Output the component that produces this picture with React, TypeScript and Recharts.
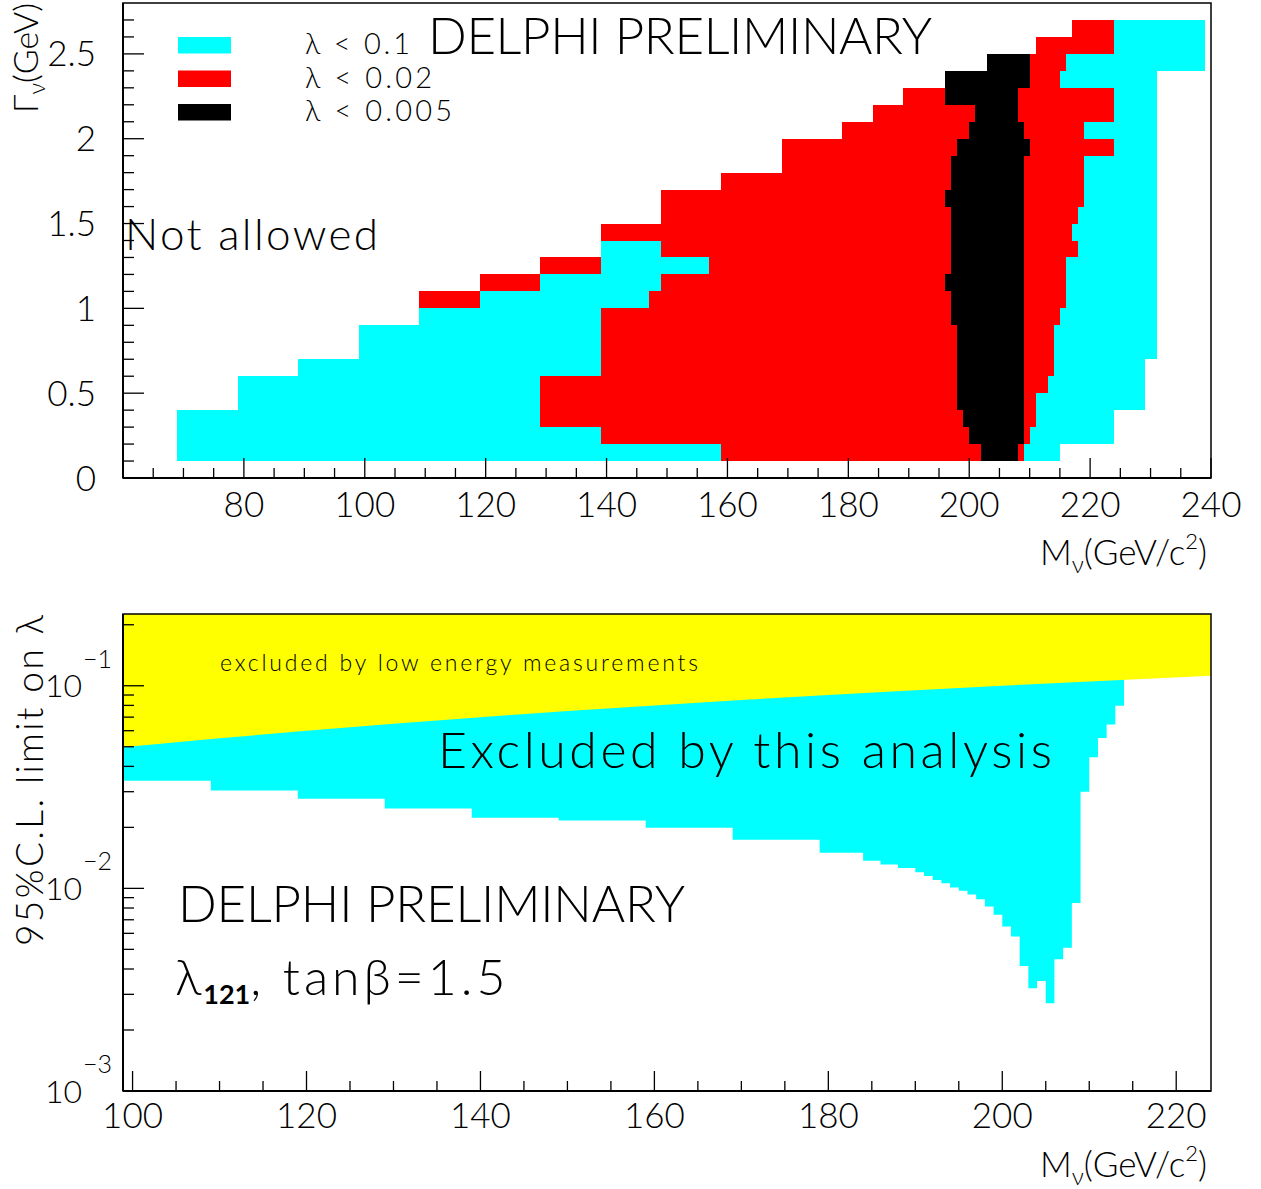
import React from "react";
import { ComposedChart, XAxis, YAxis, Area, Scatter, ReferenceArea } from "recharts";

const FONT = "Lato, 'Open Sans', sans-serif";
const CYAN = "#00ffff";
const RED = "#ff0000";
const YELLOW = "#ffff00";
const LEVEL_COLORS = [CYAN, RED, "#000000"];

// ---------- upper plot: scan in (M_nu, Gamma_nu) ----------
// lower edge of every 0.1 GeV row in Gamma_nu
const gammaRows = [
  0.1, 0.2, 0.3, 0.4, 0.5, 0.6, 0.7, 0.8, 0.9, 1.0, 1.1, 1.2, 1.3, 1.4,
  1.5, 1.6, 1.7, 1.8, 1.9, 2.0, 2.1, 2.2, 2.3, 2.4, 2.5, 2.6, 2.7,
];
// for each row: [M from, M to, level]  level 0: λ<0.1, 1: λ<0.02, 2: λ<0.005
const rowCells: [number, number, number][][] = [
  [[69, 159, 0], [159, 202, 1], [202, 208, 2], [208, 209, 1], [209, 215, 0]],
  [[69, 139, 0], [139, 200, 1], [200, 209, 2], [209, 210, 1], [210, 224, 0]],
  [[69, 129, 0], [129, 199, 1], [199, 209, 2], [209, 211, 1], [211, 224, 0]],
  [[79, 129, 0], [129, 198, 1], [198, 209, 2], [209, 211, 1], [211, 229, 0]],
  [[79, 129, 0], [129, 198, 1], [198, 209, 2], [209, 213, 1], [213, 229, 0]],
  [[89, 139, 0], [139, 198, 1], [198, 209, 2], [209, 214, 1], [214, 229, 0]],
  [[99, 139, 0], [139, 198, 1], [198, 209, 2], [209, 214, 1], [214, 231, 0]],
  [[99, 139, 0], [139, 198, 1], [198, 209, 2], [209, 214, 1], [214, 231, 0]],
  [[109, 139, 0], [139, 197, 1], [197, 209, 2], [209, 215, 1], [215, 231, 0]],
  [[109, 119, 1], [119, 147, 0], [147, 197, 1], [197, 209, 2], [209, 216, 1], [216, 231, 0]],
  [[119, 129, 1], [129, 149, 0], [149, 196, 1], [196, 209, 2], [209, 216, 1], [216, 231, 0]],
  [[129, 139, 1], [139, 157, 0], [157, 197, 1], [197, 209, 2], [209, 216, 1], [216, 231, 0]],
  [[139, 149, 0], [149, 197, 1], [197, 209, 2], [209, 218, 1], [218, 231, 0]],
  [[139, 197, 1], [197, 209, 2], [209, 217, 1], [217, 231, 0]],
  [[149, 197, 1], [197, 209, 2], [209, 218, 1], [218, 231, 0]],
  [[149, 196, 1], [196, 209, 2], [209, 219, 1], [219, 231, 0]],
  [[159, 197, 1], [197, 209, 2], [209, 219, 1], [219, 231, 0]],
  [[169, 197, 1], [197, 209, 2], [209, 219, 1], [219, 231, 0]],
  [[169, 198, 1], [198, 210, 2], [210, 224, 1], [224, 231, 0]],
  [[179, 200, 1], [200, 209, 2], [209, 219, 1], [219, 231, 0]],
  [[184, 201, 1], [201, 208, 2], [208, 224, 1], [224, 231, 0]],
  [[189, 196, 1], [196, 208, 2], [208, 224, 1], [224, 231, 0]],
  [[196, 210, 2], [210, 215, 1], [215, 231, 0]],
  [[203, 210, 2], [210, 216, 1], [216, 239, 0]],
  [[211, 224, 1], [224, 239, 0]],
  [[217, 224, 1], [224, 239, 0]],
  [[224, 239, 0]],
];
const legendLabels = ["λ < 0.1", "λ < 0.02", "λ < 0.005"];
const legendWidths = [105, 127, 147];
const topMassTicks = [
  65, 70, 75, 80, 85, 90, 95, 100, 105, 110, 115, 120, 125, 130, 135, 140,
  145, 150, 155, 160, 165, 170, 175, 180, 185, 190, 195, 200, 205, 210, 215,
  220, 225, 230, 235, 240,
];
const widthTicks = [
  0, 0.1, 0.2, 0.3, 0.4, 0.5, 0.6, 0.7, 0.8, 0.9, 1, 1.1, 1.2, 1.3, 1.4, 1.5,
  1.6, 1.7, 1.8, 1.9, 2, 2.1, 2.2, 2.3, 2.4, 2.5, 2.6, 2.7,
];

// ---------- lower plot: limit on lambda_121 ----------
// left edge of each mass bin and the 95% C.L. limit there
const limitMass = [
  98.9, 109, 119, 129, 139, 149, 159, 169, 179, 184, 186, 188, 190, 191, 192,
  193, 194, 195, 196, 197, 198, 199, 200, 201, 202, 203, 204, 205, 206, 207,
  208, 209, 210, 211, 212, 213, 214,
];
const limitLambda = [
  0.034, 0.0304, 0.0277, 0.0248, 0.0223, 0.0216, 0.0199, 0.0174, 0.015,
  0.0137, 0.0131, 0.0126, 0.012, 0.0115, 0.011, 0.0106, 0.0101, 0.00973,
  0.00932, 0.00885, 0.00813, 0.0074, 0.00648, 0.00578, 0.00414, 0.00321,
  0.00349, 0.00271, 0.00447, 0.0051, 0.00846, 0.03, 0.0444, 0.0552, 0.0644,
  0.0796, 0.0796,
];
// low energy bound
const boundMass = [98.9, 110, 120, 130, 140, 150, 160, 170, 180, 190, 200, 210, 224];
const boundLambda = [0.0497, 0.055, 0.06, 0.065, 0.07, 0.075, 0.08, 0.085, 0.09, 0.095, 0.1, 0.105, 0.112];
const lowMassTicks = [
  100, 105, 110, 115, 120, 125, 130, 135, 140, 145, 150, 155, 160, 165, 170,
  175, 180, 185, 190, 195, 200, 205, 210, 215, 220,
];
const lambdaTicks = [
  0.001, 0.002, 0.003, 0.004, 0.005, 0.006, 0.007, 0.008, 0.009,
  0.01, 0.02, 0.03, 0.04, 0.05, 0.06, 0.07, 0.08, 0.09, 0.1, 0.2,
];
const decadeExp: Record<string, string> = { "0.001": "−3", "0.01": "−2", "0.1": "−1" };

// cell centres, only used so the scan has data behind its axes
const cellPoints = rowCells.flatMap((cells, r) =>
  cells.map(([a, b]) => ({ m: (a + b) / 2, g: gammaRows[r] + 0.05 }))
);
const limitData = limitMass.map((m, i) => ({ m, limit: limitLambda[i] }));
const boundData = boundMass.map((m, i) => ({ m, bound: boundLambda[i] }));

const txt = { fontFamily: FONT, fontWeight: 300, fill: "#000" } as const;

function massTick(labelDy: number) {
  return (props: any) => {
    const { x, y, payload } = props;
    const major = payload.value % 20 === 0;
    return (
      <g>
        <line x1={x} y1={y} x2={x} y2={y - (major ? 20 : 10)} stroke="#000" strokeWidth={1.3} />
        {major && (
          <text x={x} y={y + labelDy} textAnchor="middle" fontSize={35} {...txt}>
            {payload.value}
          </text>
        )}
      </g>
    );
  };
}

function WidthTick(props: any) {
  const { x, y, payload } = props;
  const v = payload.value;
  const major = Math.round(v * 10) % 5 === 0;
  return (
    <g>
      <line x1={x} y1={y} x2={x + (major ? 21 : 11)} y2={y} stroke="#000" strokeWidth={1.3} />
      {major && (
        <text x={x - 27} y={y + 12.5} textAnchor="end" fontSize={35} {...txt}>
          {v}
        </text>
      )}
    </g>
  );
}

function LambdaTick(props: any) {
  const { x, y, payload } = props;
  const exp = decadeExp[String(payload.value)];
  return (
    <g>
      <line x1={x} y1={y} x2={x + (exp ? 21 : 11)} y2={y} stroke="#000" strokeWidth={1.3} />
      {exp && (
        <>
          <text x={x - 41} y={y + 11.5} textAnchor="end" fontSize={32} {...txt}>10</text>
          <text x={x - 40} y={y - 18} textAnchor="start" fontSize={25} {...txt}>{exp}</text>
        </>
      )}
    </g>
  );
}

function MassTitle({ y }: { y: number }) {
  return (
    <text x={1207} y={y} textAnchor="end" fontSize={35} {...txt}>
      M<tspan fontSize={24} dy={8}>ν</tspan>
      <tspan dy={-8}>(GeV/c</tspan>
      <tspan fontSize={22} dy={-16}>2</tspan>
      <tspan dy={16}>)</tspan>
    </text>
  );
}

const axisLine = { stroke: "#000", strokeWidth: 2 };
const overlay: React.CSSProperties = { position: "absolute", left: 0, top: 0, pointerEvents: "none" };

export default function App() {
  return (
    <div style={{ position: "absolute", left: 0, top: 0, width: 1261, height: 1189, background: "#fff" }}>
      <div style={{ position: "absolute", left: 0, top: 0, width: 1261, height: 600 }}>
        <ComposedChart width={1261} height={600} data={cellPoints} margin={{ top: 3, right: 50, bottom: 92, left: 63 }}>
          <XAxis
            type="number"
            dataKey="m"
            domain={[60, 240]}
            ticks={topMassTicks}
            interval={0}
            tickSize={0}
            tickMargin={0}
            tickLine={false}
            axisLine={axisLine}
            tick={massTick(39)}
            height={30}
            allowDataOverflow
          />
          <YAxis
            type="number"
            dataKey="g"
            domain={[0, 2.8]}
            ticks={widthTicks}
            interval={0}
            tickSize={0}
            tickMargin={0}
            tickLine={false}
            axisLine={axisLine}
            tick={WidthTick}
            width={60}
            allowDataOverflow
          />
          <Scatter dataKey="g" shape={() => <g />} isAnimationActive={false} />
          {rowCells.flatMap((cells, r) =>
            cells.map(([a, b, lvl], k) => (
              <ReferenceArea
                key={`c${r}-${k}`}
                x1={a}
                x2={b}
                y1={gammaRows[r]}
                y2={gammaRows[r] + 0.1}
                fill={LEVEL_COLORS[lvl]}
                fillOpacity={1}
                stroke="none"
                shapeRendering="crispEdges"
              />
            ))
          )}
          <ReferenceArea x1={60} x2={240} y1={0} y2={2.8} fill="none" stroke="#000" strokeWidth={1.5} />
        </ComposedChart>
        <svg width={1261} height={600} style={overlay}>
          {legendLabels.map((label, i) => (
            <g key={label}>
              <rect x={178} y={37 + i * 33.5} width={53} height={16.5} fill={LEVEL_COLORS[i]} />
              <text x={305} y={54 + i * 33.5} fontSize={29} textLength={legendWidths[i]} lengthAdjust="spacing" {...txt}>
                {label}
              </text>
            </g>
          ))}
          <text x={428} y={54} fontSize={51} textLength={504} lengthAdjust="spacing" {...txt}>
            DELPHI PRELIMINARY
          </text>
          <text x={125} y={250} fontSize={44} textLength={253} lengthAdjust="spacing" {...txt}>
            Not allowed
          </text>
          <MassTitle y={565} />
          <text transform="rotate(-90)" x={-3} y={38} textAnchor="end" fontSize={34} {...txt}>
            Γ<tspan fontSize={23} dy={7}>ν</tspan>
            <tspan dy={-7}>(GeV)</tspan>
          </text>
        </svg>
      </div>

      <div style={{ position: "absolute", left: 0, top: 600, width: 1261, height: 589 }}>
        <ComposedChart width={1261} height={589} data={limitData} margin={{ top: 14, right: 50, bottom: 68, left: 63 }}>
          <XAxis
            type="number"
            dataKey="m"
            domain={[98.9, 224]}
            ticks={lowMassTicks}
            interval={0}
            tickSize={0}
            tickMargin={0}
            tickLine={false}
            axisLine={axisLine}
            tick={massTick(37)}
            height={30}
            allowDataOverflow
          />
          <YAxis
            type="number"
            scale="log"
            domain={[0.001, 0.226]}
            ticks={lambdaTicks}
            interval={0}
            tickSize={0}
            tickMargin={0}
            tickLine={false}
            axisLine={axisLine}
            tick={LambdaTick}
            width={60}
            allowDataOverflow
          />
          <Area
            dataKey="limit"
            type="stepAfter"
            baseValue="dataMax"
            fill={CYAN}
            fillOpacity={1}
            stroke="none"
            isAnimationActive={false}
          />
          <Area
            data={boundData}
            dataKey="bound"
            type="linear"
            baseValue="dataMax"
            fill={YELLOW}
            fillOpacity={1}
            stroke="none"
            isAnimationActive={false}
          />
          <ReferenceArea x1={98.9} x2={224} y1={0.001} y2={0.226} fill="none" stroke="#000" strokeWidth={1.5} />
        </ComposedChart>
        <svg width={1261} height={589} style={overlay}>
          <text x={220} y={71} fontSize={23} textLength={478} lengthAdjust="spacing" {...txt}>
            excluded by low energy measurements
          </text>
          <text x={438} y={168} fontSize={50} textLength={614} lengthAdjust="spacing" {...txt}>
            Excluded by this analysis
          </text>
          <text x={178} y={322} fontSize={51} textLength={507} lengthAdjust="spacing" {...txt}>
            DELPHI PRELIMINARY
          </text>
          <text x={175} y={395} fontSize={50} {...txt}>
            <tspan letterSpacing={2}>λ</tspan>
            <tspan fontSize={27} fontWeight={700} dy={9}>121</tspan>
            <tspan dy={-9} letterSpacing={4}>, tanβ=1.5</tspan>
          </text>
          <MassTitle y={577} />
          <text transform="rotate(-90)" x={-15} y={43} textAnchor="end" fontSize={37} textLength={331} lengthAdjust="spacing" {...txt}>
            95%C.L. limit on λ
          </text>
        </svg>
      </div>
    </div>
  );
}
